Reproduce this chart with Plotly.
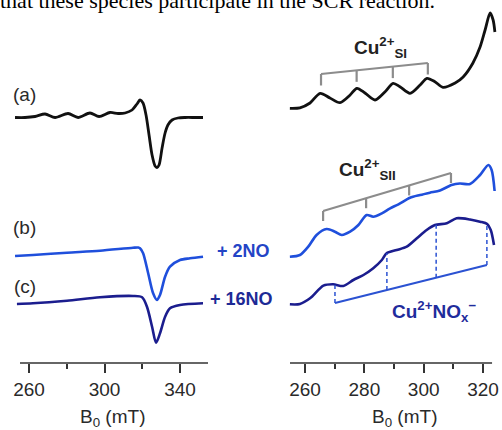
import numpy as np
import plotly.graph_objects as go

W, H = 502, 430

# ---- EPR spectra: magnetic field (mT) and derivative intensity (a.u.) ----
# Left panel: full spectra
LEFT_B_A = [252.6, 257.9, 263.2, 268.5, 273.8, 280.7, 286.0, 292.3, 297.1, 302.9,
            307.2, 310.9, 314.6, 317.2, 318.8, 320.4, 322.0, 323.6, 325.2, 326.8,
            327.8, 328.9, 330.5, 332.1, 333.6, 335.8, 338.9, 342.7, 348.0, 352.2]
LEFT_I_A = [0, 0, 1, 3.5, 0, 4, 0, 4.5, 1, 5,
            4, 4.5, 7.5, 13.5, 17.5, 14.5, 2.5, -17.5, -37.5, -48.5,
            -50, -47.5, -30.5, -15.5, -7.5, -2.5, -0.5, 0, 0, 0]

LEFT_B_B = [252.6, 262.1, 280.1, 297.6, 315.1, 317.9, 318.8, 320.4, 323.1, 325.7,
            327.8, 329.4, 332.1, 334.7, 340.0, 345.3, 352.2]
LEFT_I_B = [0, 1, 3.3, 5.3, 8.3, 8.5, 7.7, 3, -17, -37,
            -44, -39, -20.7, -10.7, -4, -2.3, -0.7]

LEFT_B_C = [253.6, 262.1, 280.1, 297.6, 315.1, 319.9, 322.5, 325.2, 327.3, 329.4,
            332.1, 334.7, 340.0, 352.2]
LEFT_I_C = [0, 0.7, 3.3, 6.7, 8, 6.7, -2.7, -22.7, -38.7, -29.3,
            -12.7, -4.3, -1, 0.7]

# Right panel: expanded low-field region
RIGHT_B_A = [254.9, 258.3, 261.7, 265.1, 268.4, 271.8, 275.2, 277.5, 280.2, 283.6,
             287.0, 289.7, 292.0, 295.4, 298.8, 301.1, 303.8, 306.5, 310.6, 313.3,
             316.6, 319.0, 320.7, 322.4, 323.4, 324.0]
RIGHT_I_A = [0, 0.5, 5.3, 15, 10.3, 5.6, 13.3, 20, 15.3, 8.3,
             16.6, 25, 21.6, 15, 23.3, 30, 26.6, 21, 25.3, 31.3,
             45.3, 61.3, 78.3, 95.3, 88.3, 76.3]

RIGHT_B_B = [254.9, 258.3, 261.1, 263.9, 267.3, 270.1, 272.4, 275.2, 278.0, 280.8,
             283.0, 285.9, 288.7, 291.5, 295.4, 298.8, 302.1, 305.5, 309.4, 312.2,
             315.6, 319.0, 321.8, 322.9, 323.9]
RIGHT_I_B = [0.3, 2, 10.3, 22, 28, 25.3, 22, 25.3, 32, 42,
             40.3, 43.7, 48.7, 52.7, 59.3, 62, 64.3, 66.5, 72, 73.5,
             73, 82, 92, 87, 66]

RIGHT_B_C = [254.9, 258.3, 261.7, 266.2, 269.5, 272.9, 276.3, 279.7, 283.0, 285.9,
             287.5, 290.9, 294.3, 297.7, 301.0, 303.8, 307.8, 311.1, 315.6, 319.0,
             321.4, 322.6, 323.7]
RIGHT_I_C = [0, 0.3, 6, 18.6, 20, 18.3, 24.3, 29.3, 36, 44.3,
             51, 54.3, 57.6, 66, 74.3, 79.3, 81, 86, 84.8, 82.6,
             80.3, 74.3, 59.3]

# Hyperfine markers (mT)
SI_LINES = [265.4, 277.4, 289.6, 301.4]
SII_LINES = [266.1, 280.6, 295.1, 309.2]
NOX_LINES = [270.1, 287.6, 304.2, 321.3]

LEFT_TICKS = [260, 300, 340]
LEFT_MINOR = [280, 320]
RIGHT_TICKS = [260, 280, 300, 320]
RIGHT_MINOR = [270, 290, 310]

BLACK = "#111111"
BLUE = "#1f4fdc"
NAVY = "#1b1d8e"
MARK_BLUE = "#2b52d2"
GREY = "#8c8c8c"
TEXT = "#2a2a2a"

# vertical placement of the stacked spectra (plot units = px above axis)
AXIS_Y = 363
OFF_LA, OFF_LB, OFF_LC = AXIS_Y - 117.5, AXIS_Y - 256, AXIS_Y - 304
OFF_RA, OFF_RB, OFF_RC = AXIS_Y - 108.3, AXIS_Y - 257, AXIS_Y - 304.3


def px(x, y):
    return x / W, 1 - y / H


fig = go.Figure()


def spectrum(b, i, off, color, xa, width=2.6):
    fig.add_trace(go.Scatter(
        x=b, y=np.array(i) + off, mode="lines", xaxis=xa, yaxis="y",
        line=dict(color=color, width=width, shape="spline", smoothing=0.8),
        hoverinfo="skip", showlegend=False))


spectrum(LEFT_B_A, LEFT_I_A, OFF_LA, BLACK, "x", 2.8)
spectrum(LEFT_B_B, LEFT_I_B, OFF_LB, BLUE, "x")
spectrum(LEFT_B_C, LEFT_I_C, OFF_LC, NAVY, "x")
spectrum(RIGHT_B_A, RIGHT_I_A, OFF_RA, BLACK, "x2", 2.8)
spectrum(RIGHT_B_B, RIGHT_I_B, OFF_RB, BLUE, "x2")
spectrum(RIGHT_B_C, RIGHT_I_C, OFF_RC, NAVY, "x2")


def comb(lines, y_left, y_right, tick, color, width=2.2):
    """Tilted stick diagram: a sloped bar with a tick down at each line."""
    lines = np.array(lines)
    ys = np.interp(lines, [lines[0], lines[-1]], [y_left, y_right])
    xs, yy = [], []
    for b, y in zip(lines, ys):
        xs += [b, b, None]
        yy += [y - tick, y, None]
    xs += [lines[0], lines[-1]]
    yy += [ys[0], ys[-1]]
    fig.add_trace(go.Scatter(x=xs, y=yy, mode="lines", xaxis="x2", yaxis="y",
                             line=dict(color=color, width=width),
                             hoverinfo="skip", showlegend=False))


comb(SI_LINES, OFF_RA + 34.3, OFF_RA + 45.3, 11.5, GREY)
comb(SII_LINES, OFF_RB + 46, OFF_RB + 84, 10, GREY)

# Cu2+-NOx- stick diagram: dashed drops from the spectrum onto a sloped bar
nox = np.array(NOX_LINES)
bar = np.interp(nox, [nox[0], nox[-1]], [OFF_RC + 1.3, OFF_RC + 39.3])
top = np.interp(nox, RIGHT_B_C, RIGHT_I_C) + OFF_RC
dx, dy = [], []
for b, y0, y1 in zip(nox, bar, top):
    dx += [b, b, None]
    dy += [y0, y1, None]
fig.add_trace(go.Scatter(x=dx, y=dy, mode="lines", xaxis="x2", yaxis="y",
                         line=dict(color=MARK_BLUE, width=1.5, dash="4px,3px"),
                         hoverinfo="skip", showlegend=False))
fig.add_trace(go.Scatter(x=[nox[0], nox[-1]], y=[bar[0], bar[-1]], mode="lines",
                         xaxis="x2", yaxis="y",
                         line=dict(color=MARK_BLUE, width=2),
                         hoverinfo="skip", showlegend=False))

# ---- axes ----
tickfont = dict(family="Liberation Sans, Arial, sans-serif", size=19, color=TEXT)
common = dict(ticks="outside", ticklen=9, tickwidth=1.5, tickcolor="#333",
              showline=False, showgrid=False, zeroline=False, tickfont=tickfont,
              fixedrange=True)
fig.update_layout(
    xaxis=dict(domain=[10 / W, 215 / W], range=[249.93, 358.54], anchor="y",
               tickvals=LEFT_TICKS,
               minor=dict(tickvals=LEFT_MINOR, ticks="outside", ticklen=5,
                          tickwidth=1.5, tickcolor="#333"), **common),
    xaxis2=dict(domain=[285 / W, 500 / W], range=[253.26, 325.72], anchor="y",
                tickvals=RIGHT_TICKS,
                minor=dict(tickvals=RIGHT_MINOR, ticks="outside", ticklen=5,
                           tickwidth=1.5, tickcolor="#333"), **common),
    yaxis=dict(domain=[1 - AXIS_Y / H, 1], range=[0, AXIS_Y], visible=False,
               fixedrange=True),
)

# axis baselines
for xref, b0, b1 in [("x", 255.23, 354.83), ("x2", 254.94, 323.04)]:
    fig.add_shape(type="line", xref=xref, yref="paper", x0=b0, x1=b1,
                  y0=1 - AXIS_Y / H, y1=1 - AXIS_Y / H,
                  line=dict(color="#333", width=1.6))

# ---- text ----
ann = []


def label(text, x, y, size=19, color=TEXT, bold=False, xanchor="center",
          family="Liberation Sans, Arial, sans-serif"):
    ax, ay = px(x, y)
    if bold:
        text = "<b>" + text + "</b>"
    ann.append(dict(text=text, x=ax, y=ay, xref="paper", yref="paper",
                    xanchor=xanchor, yanchor="middle", showarrow=False,
                    font=dict(family=family, size=size, color=color)))


label("that these species participate in the SCR reaction.", -2, 0, size=22,
      color="#000", xanchor="left", family="Liberation Serif, Times New Roman, serif")
label("(a)", 24.5, 94)
label("(b)", 24.5, 227)
label("(c)", 24.5, 286)
label("+ 2NO", 243, 251, size=18, color="#2344c6", bold=True)
label("+ 16NO", 241, 299, size=18, color="#1d2a96", bold=True)
label("Cu<sup>2+</sup><sub>SI</sub>", 380, 47, size=19, color="#222", bold=True)
label("Cu<sup>2+</sup><sub>SII</sub>", 367, 169, size=19, color="#222", bold=True)
label("Cu<sup>2+</sup>NO<sub>x</sub><sup>\u2212</sup>", 434, 311, size=19,
      color="#1f2c9c", bold=True)
label("B<sub>0</sub> (mT)", 112, 418)
label("B<sub>0</sub> (mT)", 404, 418)

fig.update_layout(
    width=W, height=H, margin=dict(l=0, r=0, t=0, b=0),
    paper_bgcolor="white", plot_bgcolor="white",
    annotations=ann, showlegend=False,
)

fig.write_html("out.html", config={"displayModeBar": False})
